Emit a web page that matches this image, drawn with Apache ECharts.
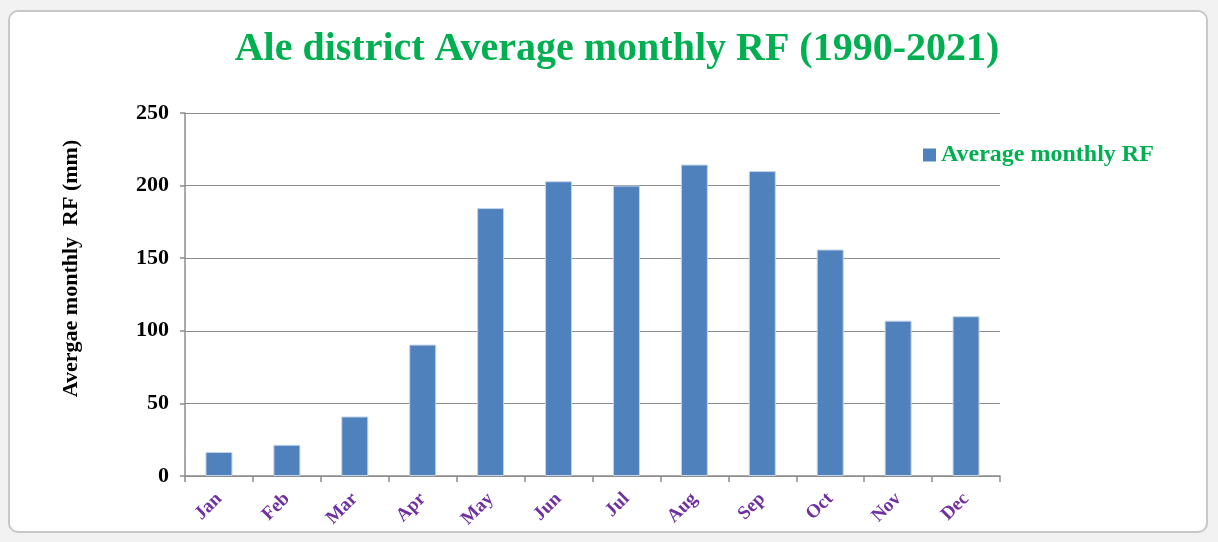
<!DOCTYPE html>
<html>
<head>
<meta charset="utf-8">
<script src="https://cdn.jsdelivr.net/npm/echarts@6/dist/echarts.min.js"></script>
<style>
  html, body { margin: 0; padding: 0; background: #f2f2f2; }
  #frame {
    position: absolute; left: 8px; top: 10px; width: 1200px; height: 523px;
    background: #fff; border: 2px solid #c8c8c8; border-radius: 10px; box-sizing: border-box;
  }
  #chart { position: absolute; left: 0; top: 0; width: 1218px; height: 542px; }
</style>
</head>
<body>
<div id="frame"></div>
<div id="chart"></div>
<script>
// 月份
const months = ["Jan", "Feb", "Mar", "Apr", "May", "Jun", "Jul", "Aug", "Sep", "Oct", "Nov", "Dec"];
// 月平均降雨量 (mm)
const rainfall = [16.5, 21.5, 41, 90.5, 184.5, 203, 200, 214.5, 210, 156, 107, 110];
const yTicks = [0, 50, 100, 150, 200, 250];

const serif = "'Liberation Serif', 'DejaVu Serif', serif";
const chart = echarts.init(document.getElementById("chart"));
chart.setOption({
  backgroundColor: "transparent",
  title: {
    text: "Ale district Average monthly RF (1990-2021)",
    left: 612,
    textAlign: "center",
    top: 25,
    textStyle: { color: "#00b050", fontFamily: serif, fontWeight: "bold", fontSize: 40 },
  },
  legend: {
    left: 918,
    top: 138,
    icon: "rect",
    itemWidth: 13,
    itemHeight: 13,
    itemGap: 6,
    itemStyle: { borderWidth: 0 },
    textStyle: { color: "#00b050", fontFamily: serif, fontWeight: "bold", fontSize: 24 },
    data: ["Average monthly RF"],
  },
  grid: { left: 185, right: 218, top: 113, bottom: 66 },
  xAxis: {
    type: "category",
    data: months,
    axisLine: { lineStyle: { color: "#8c8c8c", width: 1.5 } },
    axisTick: { show: true, length: 6, lineStyle: { color: "#8c8c8c", width: 1.5 } },
    axisLabel: {
      rotate: 45,
      margin: 20,
      color: "#7030a0",
      fontFamily: serif,
      fontWeight: "bold",
      fontSize: 19,
    },
  },
  yAxis: {
    type: "value",
    min: yTicks[0],
    max: yTicks[yTicks.length - 1],
    interval: 50,
    name: "Avergae monthly  RF (mm)",
    nameLocation: "middle",
    nameGap: 103,
    nameTextStyle: {
      color: "#000", fontFamily: serif, fontWeight: "bold", fontSize: 22,
      padding: [0, 0, 0, 52],
    },
    axisLine: { show: true, lineStyle: { color: "#8c8c8c", width: 1.5 } },
    axisTick: { show: true, length: 5, lineStyle: { color: "#8c8c8c", width: 1.5 } },
    axisLabel: { color: "#000", fontFamily: serif, fontWeight: "bold", fontSize: 22, margin: 16 },
    splitLine: { lineStyle: { color: "#8c8c8c", width: 1.2 } },
  },
  series: [
    {
      name: "Average monthly RF",
      type: "bar",
      data: rainfall,
      barWidth: 27,
      itemStyle: { color: "#4f81bd", borderColor: "#c4d4ea", borderWidth: 1 },
    },
  ],
});
</script>
</body>
</html>
